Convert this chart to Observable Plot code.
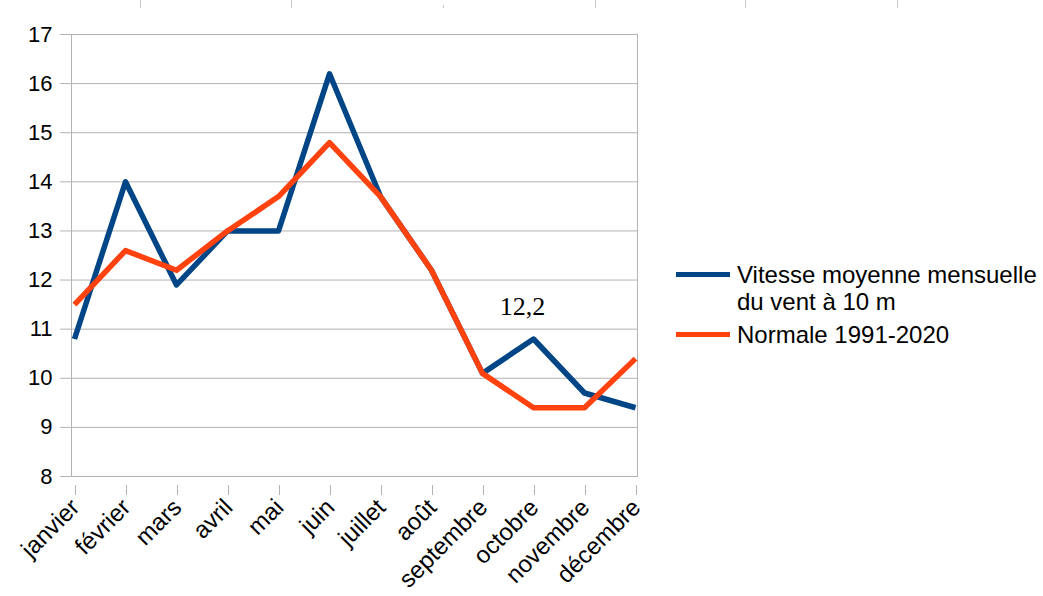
<!DOCTYPE html>
<html><head><meta charset="utf-8">
<script src="https://cdn.jsdelivr.net/npm/d3@7"></script>
<script src="https://cdn.jsdelivr.net/npm/@observablehq/plot@0.6"></script>
<style>
body{margin:0;background:#fff;font-family:"Liberation Sans",Arial,sans-serif;}
#wrap{position:relative;width:1043px;height:596px;overflow:hidden;}
.mark{position:absolute;top:0;width:1px;height:8px;background:#c8c8c8;}
.leg{position:absolute;left:676px;display:flex;align-items:flex-start;font-size:24px;line-height:27px;color:#000;}
.sw{width:54px;height:5px;margin-top:11px;margin-right:7px;flex:none;}
.lt{width:306px;}
</style></head><body><div id="wrap"></div>
<script>
const months = ["janvier","février","mars","avril","mai","juin","juillet","août","septembre","octobre","novembre","décembre"];
const vitesse = [10.8,14.0,11.9,13.0,13.0,16.2,13.7,12.2,10.1,10.8,9.7,9.4];
const normale = [11.5,12.6,12.2,13.0,13.7,14.8,13.7,12.2,10.1,9.4,9.4,10.4];
const yTicks = [8,9,10,11,12,13,14,15,16,17];
const seriesNames = ["Vitesse moyenne mensuelle du vent à 10 m","Normale 1991-2020"];
const seriesColors = ["#004586","#ff420e"];
const annotMonth = ["octobre"];
const annotValue = [11.45];
const annotText = ["12,2"];

const rows = [];
[vitesse, normale].forEach((arr, s) => arr.forEach((v, i) => rows.push({month: months[i], value: v, series: seriesNames[s]})));
const annot = annotMonth.map((m, i) => ({month: m, value: annotValue[i], text: annotText[i]}));

const gray = "#b3b3b3";
const chart = Plot.plot({
  width: 1043, height: 596,
  marginLeft: 71, marginRight: 406, marginTop: 34, marginBottom: 120,
  style: {fontFamily: '"Liberation Sans", Arial, sans-serif', fontSize: "22px", color: "#000", background: "#fff"},
  x: {type: "point", domain: months, padding: 0},
  y: {domain: [8, 17]},
  color: {domain: seriesNames, range: seriesColors},
  marks: [
    Plot.gridY(yTicks, {stroke: gray, strokeOpacity: 1}),
    Plot.frame({stroke: gray}),
    Plot.axisY(yTicks, {tickSize: 11, tickPadding: 8, stroke: gray, fill: "#000", fontSize: 22, label: null}),
    Plot.axisX({tickSize: 10, tickPadding: 8, tickRotate: -45, stroke: gray, fill: "#000", fontSize: 24, label: null, dy: 9, dx: 1}),
    Plot.line(rows, {x: "month", y: "value", z: "series", stroke: "series", strokeWidth: 5.5, strokeLinejoin: "round", strokeLinecap: "butt"}),
    Plot.text(annot, {x: "month", y: "value", text: "text", fontFamily: '"Liberation Serif", serif', fontSize: 26, dx: -11, fill: "#000"})
  ]
});
const wrap = document.getElementById("wrap");
wrap.appendChild(chart);
[140, 291, 443, 595, 745, 897].forEach((x, i) => {
  const d = document.createElement("div");
  d.className = "mark";
  d.style.left = x + "px";
  if (i === 2) { d.style.top = "5px"; d.style.height = "3px"; }
  wrap.appendChild(d);
});
const legTops = [261, 321];
seriesNames.forEach((n, i) => {
  const d = document.createElement("div");
  d.className = "leg";
  d.style.top = legTops[i] + "px";
  d.innerHTML = `<div class="sw" style="background:${seriesColors[i]}"></div><div class="lt">${n}</div>`;
  wrap.appendChild(d);
});
</script></body></html>
